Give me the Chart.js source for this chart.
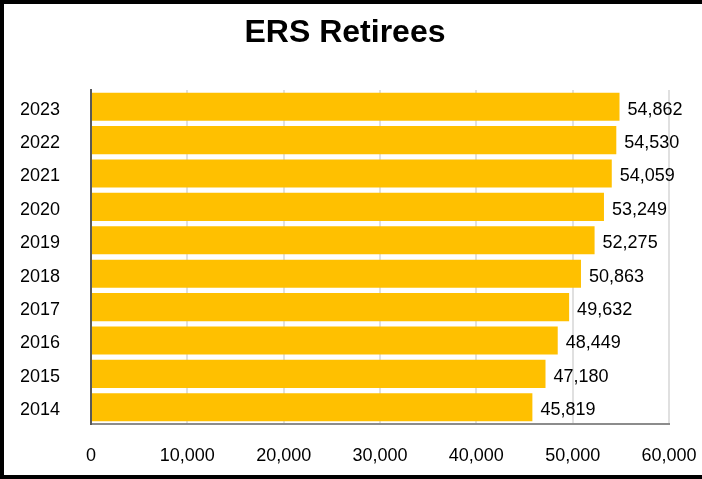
<!DOCTYPE html>
<html>
<head>
<meta charset="utf-8">
<script src="https://cdn.jsdelivr.net/npm/chart.js@4"></script>
<style>
  html, body { margin: 0; padding: 0; background: #fff; }
  #wrap { position: relative; width: 702px; height: 479px; }
  #frame { position: absolute; left: 0; top: 0; width: 698px; height: 471px;
           border-left: 4px solid #000; border-top: 4px solid #000; border-bottom: 4px solid #000;
           pointer-events: none; }
  canvas { display: block; }
</style>
</head>
<body>
<div id="wrap">
  <canvas id="c" width="702" height="479"></canvas>
  <div id="frame"></div>
</div>
<script>
const categories = ['2023', '2022', '2021', '2020', '2019', '2018', '2017', '2016', '2015', '2014'];
const retirees = [54862, 54530, 54059, 53249, 52275, 50863, 49632, 48449, 47180, 45819];
const xTickMax = 60000;
const xTickStep = 10000;

const FONT = '"Liberation Sans", Arial, sans-serif';
const fmt = v => Number(v).toLocaleString('en-US');

const valueLabels = {
  id: 'valueLabels',
  afterDatasetsDraw(chart) {
    const ctx = chart.ctx;
    const meta = chart.getDatasetMeta(0);
    ctx.save();
    ctx.font = '18px ' + FONT;
    ctx.fillStyle = '#000';
    ctx.textAlign = 'left';
    ctx.textBaseline = 'middle';
    meta.data.forEach((bar, i) => {
      ctx.fillText(fmt(chart.data.datasets[0].data[i]), bar.x + 8, bar.y + 3);
    });
    ctx.restore();
  }
};

new Chart(document.getElementById('c'), {
  type: 'bar',
  data: {
    labels: categories,
    datasets: [{
      data: retirees,
      backgroundColor: '#FFC000',
      borderWidth: 0,
      barPercentage: 0.84,
      categoryPercentage: 1.0
    }]
  },
  options: {
    indexAxis: 'y',
    responsive: false,
    animation: false,
    layout: { padding: { left: 21, right: 33, top: 0, bottom: 0 } },
    plugins: {
      legend: { display: false },
      tooltip: { enabled: false },
      title: {
        display: true,
        text: 'ERS Retirees',
        color: '#000',
        font: { family: FONT, size: 32, weight: 'bold' },
        padding: { top: 14, bottom: 37.6 }
      }
    },
    scales: {
      x: {
        min: 0,
        max: xTickMax,
        ticks: {
          stepSize: xTickStep,
          color: '#000',
          font: { family: FONT, size: 18 },
          padding: 21,
          callback: v => fmt(v)
        },
        grid: { color: '#E0E0E0', lineWidth: 2, drawTicks: false },
        border: { display: true, color: '#8C8C8C', width: 2 },
        afterFit: s => { s.height = 55; s.paddingLeft = 0; s.paddingRight = 0; }
      },
      y: {
        ticks: {
          color: '#000',
          font: { family: FONT, size: 18 },
          padding: 31,
          labelOffset: 3
        },
        grid: { display: false, drawTicks: false },
        border: { display: true, color: '#595959', width: 2 },
        afterFit: s => { s.width = 70; s.paddingTop = 0; s.paddingBottom = 0; }
      }
    }
  },
  plugins: [valueLabels]
});
</script>
</body>
</html>
